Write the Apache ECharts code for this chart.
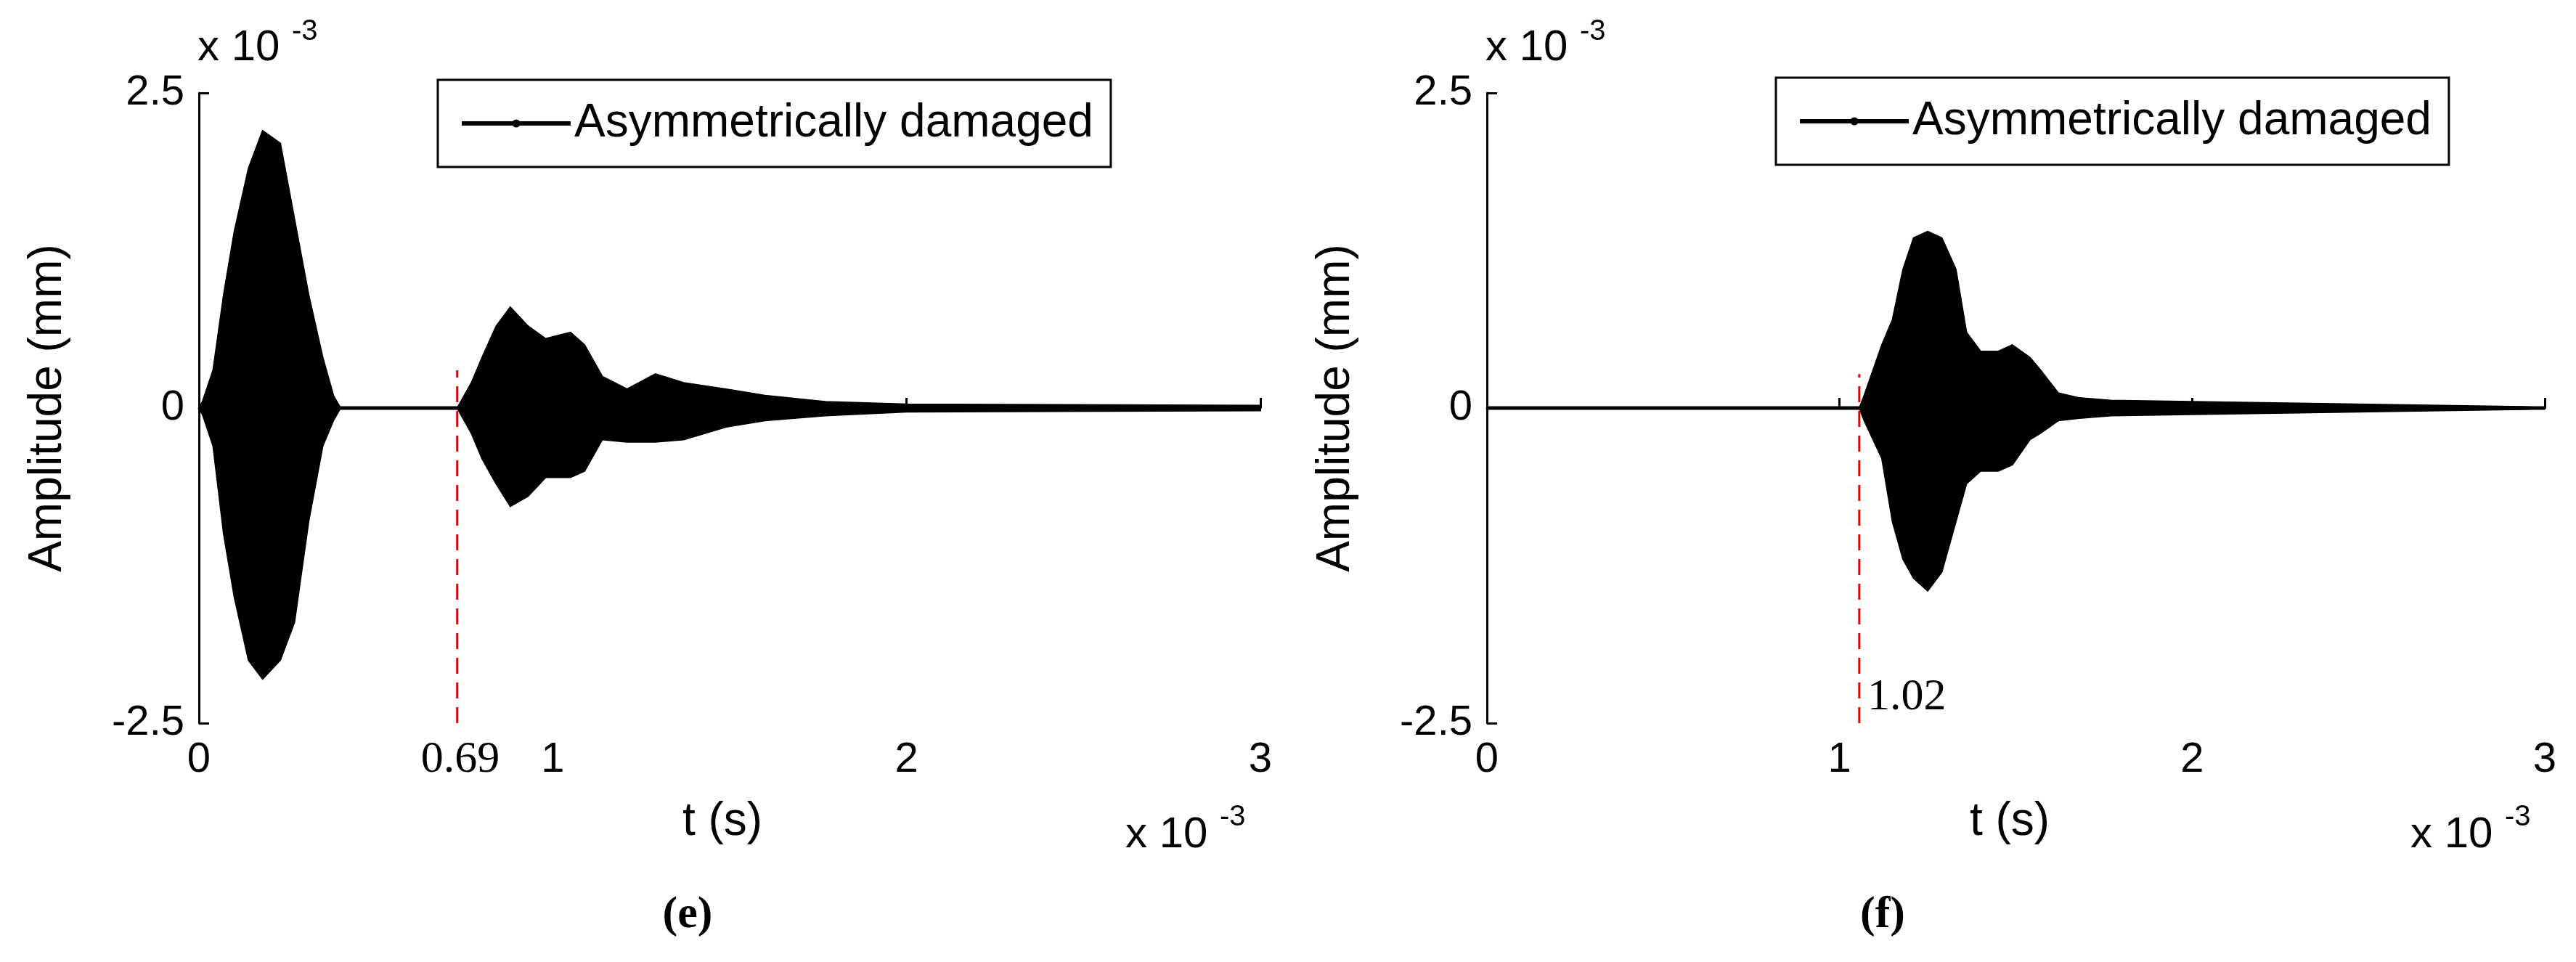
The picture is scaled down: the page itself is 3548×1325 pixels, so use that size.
<!DOCTYPE html>
<html><head><meta charset="utf-8">
<script src="https://cdn.jsdelivr.net/npm/echarts@6/dist/echarts.min.js"></script>
<style>html,body{margin:0;background:#fff}#c{width:3548px;height:1325px}</style>
</head><body><div id="c"></div>
<script>
// Envelope of signal (e): time (x1e-3 s), upper and lower amplitude (x1e-3 mm)
const tE =     [0, 0.01,0.04,0.07,0.10,0.14,0.18,0.23,0.27,0.31,0.35,0.38,0.40,0.73,0.77,0.80,0.84,0.88,0.93,0.98,1.05,1.09,1.14,1.21,1.29,1.37,1.49,1.60,1.77,2.00,3.00];
const upE =    [0, 0.05,0.30,0.90,1.40,1.90,2.20,2.10,1.50,0.90,0.40,0.10,0,   0,   0.20,0.40,0.65,0.80,0.65,0.55,0.60,0.50,0.25,0.15,0.27,0.20,0.15,0.10,0.05,0.03,0.02];
const loE =    [0,-0.05,-0.30,-1.00,-1.50,-2.00,-2.15,-2.00,-1.70,-0.90,-0.30,-0.10,0,0,-0.20,-0.40,-0.60,-0.78,-0.70,-0.55,-0.55,-0.50,-0.25,-0.27,-0.27,-0.25,-0.15,-0.10,-0.06,-0.03,-0.02];
// Envelope of signal (f)
const tF =     [0, 1.056,1.07,1.12,1.15,1.18,1.21,1.25,1.29,1.33,1.36,1.40,1.45,1.49,1.54,1.57,1.62,1.68,1.77,2.00,2.47,2.94,3.00];
const upF =    [0, 0,   0.10,0.50,0.70,1.10,1.35,1.40,1.35,1.10,0.60,0.45,0.45,0.50,0.40,0.30,0.12,0.08,0.06,0.05,0.03,0.01,0];
const loF =    [0, 0,  -0.10,-0.40,-0.90,-1.20,-1.35,-1.45,-1.30,-0.90,-0.60,-0.50,-0.50,-0.45,-0.25,-0.20,-0.10,-0.08,-0.06,-0.05,-0.03,-0.01,0];
const xTicks = [0, 1, 2, 3];
const yTicks = [-2.5, 0, 2.5];
const arrivalE = {pos: 0.73, label: '0.69', top: 0.3};
const arrivalF = {pos: 1.056, label: '1.02', top: 0.27};
const seriesName = 'Asymmetrically damaged';

const chart = echarts.init(document.getElementById('c'));
const font = 'Liberation Sans, Arial, sans-serif';
function envSeries(idx, t, up, lo){
  return {type:'custom', xAxisIndex:idx, yAxisIndex:idx, data:[[0,0]], silent:true, z:3,
    renderItem:function(params, api){
      const pts=[];
      for(let i=0;i<t.length;i++) pts.push(api.coord([t[i],up[i]]));
      for(let i=t.length-1;i>=0;i--) pts.push(api.coord([t[i],lo[i]]));
      return {type:'polygon', shape:{points:pts}, style:{fill:'#000', stroke:'#000', lineWidth:2}};
    }};
}
function zeroLine(idx){
  return {type:'line', name:seriesName, xAxisIndex:idx, yAxisIndex:idx, data:[[0,0],[3,0]],
    symbol:'none', lineStyle:{color:'#000', width:5}, itemStyle:{color:'#000'}, z:4, silent:true};
}
function redLine(idx, a){
  return {type:'line', xAxisIndex:idx, yAxisIndex:idx, data:[[a.pos,-2.5],[a.pos,a.top]],
    symbol:'none', lineStyle:{color:'#e00000', width:3, type:[22,12]}, z:5, silent:true};
}
function xAx(idx){
  return {type:'value', gridIndex:idx, min:0, max:3, interval:1,
    axisLine:{lineStyle:{color:'#000', width:3}}, axisTick:{inside:true, length:14, lineStyle:{color:'#000',width:3}},
    splitLine:{show:false}, axisLabel:{color:'#000', fontFamily:font, fontSize:58, margin:22}};
}
function yAx(idx){
  return {type:'value', gridIndex:idx, min:-2.5, max:2.5, interval:2.5,
    axisLine:{lineStyle:{color:'#000', width:3}}, axisTick:{inside:true, length:14, lineStyle:{color:'#000',width:3}},
    splitLine:{show:false}, axisLabel:{color:'#000', fontFamily:font, fontSize:58, margin:20}};
}
const tx = (x,y,text,size,extra)=>Object.assign({type:'text', x:x, y:y, style:Object.assign({text:text, fill:'#000', font:size+'px '+font}, extra||{})});
const legendCommon = {data:[seriesName], borderColor:'#000', borderWidth:3, borderRadius:0, padding:[28,24,28,30],
     itemWidth:150, itemHeight:14, itemGap:8, lineStyle:{width:6, color:'#000'}, textStyle:{fontFamily:font, fontSize:64, color:'#000'}, selectedMode:false};
chart.setOption({
  animation:false,
  grid:[{left:274, top:128, width:1462, height:868},{left:2048, top:128, width:1457, height:868}],
  xAxis:[xAx(0), xAx(1)],
  yAxis:[yAx(0), yAx(1)],
  legend:[
    Object.assign({left:603, top:110}, legendCommon),
    Object.assign({left:2446, top:107}, legendCommon)
  ],
  series:[envSeries(0,tE,upE,loE), zeroLine(0), redLine(0,arrivalE),
          envSeries(1,tF,upF,loF), zeroLine(1), redLine(1,arrivalF)],
  graphic:[
    tx(272,36,'x 10',60), tx(402,24,'-3',40),
    tx(2046,36,'x 10',60), tx(2176,24,'-3',40),
    tx(1550,1120,'x 10',60), tx(1680,1106,'-3',40),
    tx(3320,1120,'x 10',60), tx(3450,1106,'-3',40),
    tx(995,1100,'t (s)',64,{align:'center'}), tx(2768,1100,'t (s)',64,{align:'center'}),
    {type:'text', x:66, y:562, rotation:Math.PI/2, style:{text:'Amplitude (mm)', fill:'#000', font:'64px '+font, align:'center', verticalAlign:'middle'}},
    {type:'text', x:1840, y:562, rotation:Math.PI/2, style:{text:'Amplitude (mm)', fill:'#000', font:'64px '+font, align:'center', verticalAlign:'middle'}},
    tx(634,1016,arrivalE.label,62,{align:'center', font:'62px Liberation Serif, serif'}),
    tx(2572,930,arrivalF.label,62,{font:'62px Liberation Serif, serif'}),
    tx(947,1230,'(e)',62,{align:'center', font:'bold 62px Liberation Serif, serif'}),
    tx(2593,1230,'(f)',62,{align:'center', font:'bold 62px Liberation Serif, serif'})
  ]
});
</script></body></html>
